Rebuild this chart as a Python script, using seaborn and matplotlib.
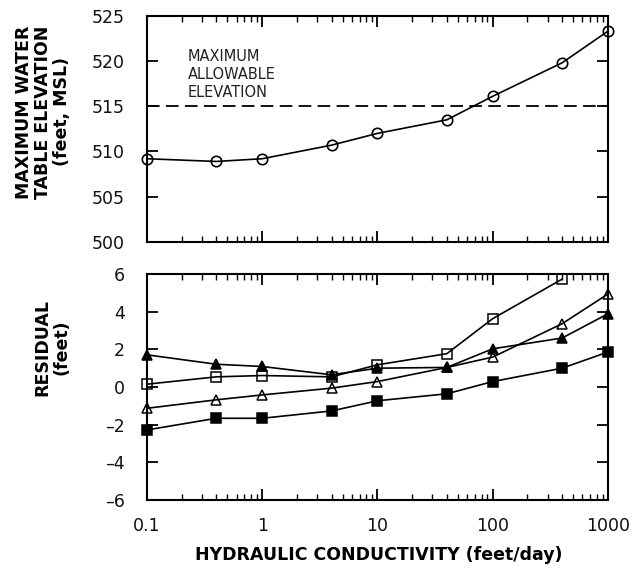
import numpy as np
import pandas as pd
import matplotlib
matplotlib.use("Agg")
import matplotlib.pyplot as plt
import seaborn as sns
from matplotlib.ticker import LogLocator, FixedLocator, NullFormatter

# ---- data ----
k_values = [0.1, 0.4, 1, 4, 10, 40, 100, 400, 1000]
max_elev = [509.2, 508.9, 509.2, 510.7, 512.0, 513.5, 516.1, 519.8, 523.3]
allowable_elev = 515.0

res_filled_tri = [1.71, 1.21, 1.09, 0.65, 1.00, 1.04, 2.03, 2.60, 3.89]
res_open_sq = [0.15, 0.54, 0.61, 0.54, 1.18, 1.77, 3.63, 5.73, np.nan]
res_open_tri = [-1.13, -0.68, -0.42, -0.06, 0.29, 1.04, 1.59, 3.36, 4.94]
res_filled_sq = [-2.28, -1.66, -1.66, -1.27, -0.73, -0.36, 0.29, 1.00, 1.86]

x_ticks = [0.1, 1, 10, 100, 1000]
x_tick_labels = ["0.1", "1", "10", "100", "1000"]
top_yticks = [500, 505, 510, 515, 520, 525]
bot_yticks = [-6, -4, -2, 0, 2, 4, 6]

sns.set_style("ticks")
plt.rcParams["font.family"] = ["DejaVu Sans"]
plt.rcParams["text.color"] = "black"
plt.rcParams["xtick.color"] = "black"
plt.rcParams["ytick.color"] = "black"

fig = plt.figure(figsize=(6.33, 5.74), dpi=100)
ax1 = fig.add_axes([0.232, 0.5784, 0.7285, 0.3942])
ax2 = fig.add_axes([0.232, 0.1289, 0.7285, 0.3937])

df_top = pd.DataFrame({"k": k_values, "elev": max_elev})
sns.lineplot(data=df_top, x="k", y="elev", ax=ax1, color="black", lw=1.2,
             marker="o", markersize=7.5, markerfacecolor="none",
             markeredgecolor="black", markeredgewidth=1.2, clip_on=False)
ax1.axhline(allowable_elev, color="black", lw=1.3, ls=(0, (7, 3.5)))
ax1.text(0.225, 518.5, "MAXIMUM\nALLOWABLE\nELEVATION", fontsize=10.5,
         color="#222222", va="center", ha="left", linespacing=1.25)

series = [
    (res_filled_tri, "^", "black"),
    (res_open_sq, "s", "none"),
    (res_open_tri, "^", "none"),
    (res_filled_sq, "s", "black"),
]
for vals, mk, fc in series:
    d = pd.DataFrame({"k": k_values, "r": vals}).dropna()
    sns.lineplot(data=d, x="k", y="r", ax=ax2, color="black", lw=1.2,
                 marker=mk, markersize=7.5 if mk == "^" else 6.5,
                 markerfacecolor=fc, markeredgecolor="black",
                 markeredgewidth=1.1, clip_on=False)

for ax in (ax1, ax2):
    ax.set_xscale("log")
    ax.set_xlim(0.1, 1000)
    ax.xaxis.set_major_locator(FixedLocator(x_ticks))
    ax.xaxis.set_minor_locator(LogLocator(base=10, subs=np.arange(2, 10)))
    ax.xaxis.set_minor_formatter(NullFormatter())
    ax.tick_params(which="both", direction="in", top=True, right=True,
                   labelsize=12.5, color="black", labelcolor="#111111")
    ax.tick_params(which="major", length=8, width=1.3)
    ax.tick_params(which="minor", length=4, width=1.0)
    ax.tick_params(axis="y", pad=16)
    for s in ax.spines.values():
        s.set_linewidth(1.5)
        s.set_color("black")
    ax.set_xlabel("")
    ax.set_ylabel("")

ax1.set_ylim(500, 525)
ax1.set_yticks(top_yticks)
ax1.set_xticklabels([])
ax2.set_ylim(-6, 6)
ax2.set_yticks(bot_yticks)
ax2.set_yticklabels([str(v).replace("-", "\u2013") for v in bot_yticks])
ax2.set_xticklabels(x_tick_labels)
ax2.tick_params(axis="x", pad=12)

fig.text(0.068, 0.805, "MAXIMUM WATER\nTABLE ELEVATION\n(feet, MSL)",
         rotation=90, ha="center", va="center", fontsize=12.5,
         fontweight="bold", linespacing=1.1)
fig.text(0.082, 0.395, "RESIDUAL\n(feet)", rotation=90, ha="center",
         va="center", fontsize=12.5, fontweight="bold", linespacing=1.1)
fig.text(0.599, 0.033, "HYDRAULIC CONDUCTIVITY (feet/day)", ha="center",
         va="center", fontsize=12.5, fontweight="bold")

fig.savefig("out.png", dpi=100)
